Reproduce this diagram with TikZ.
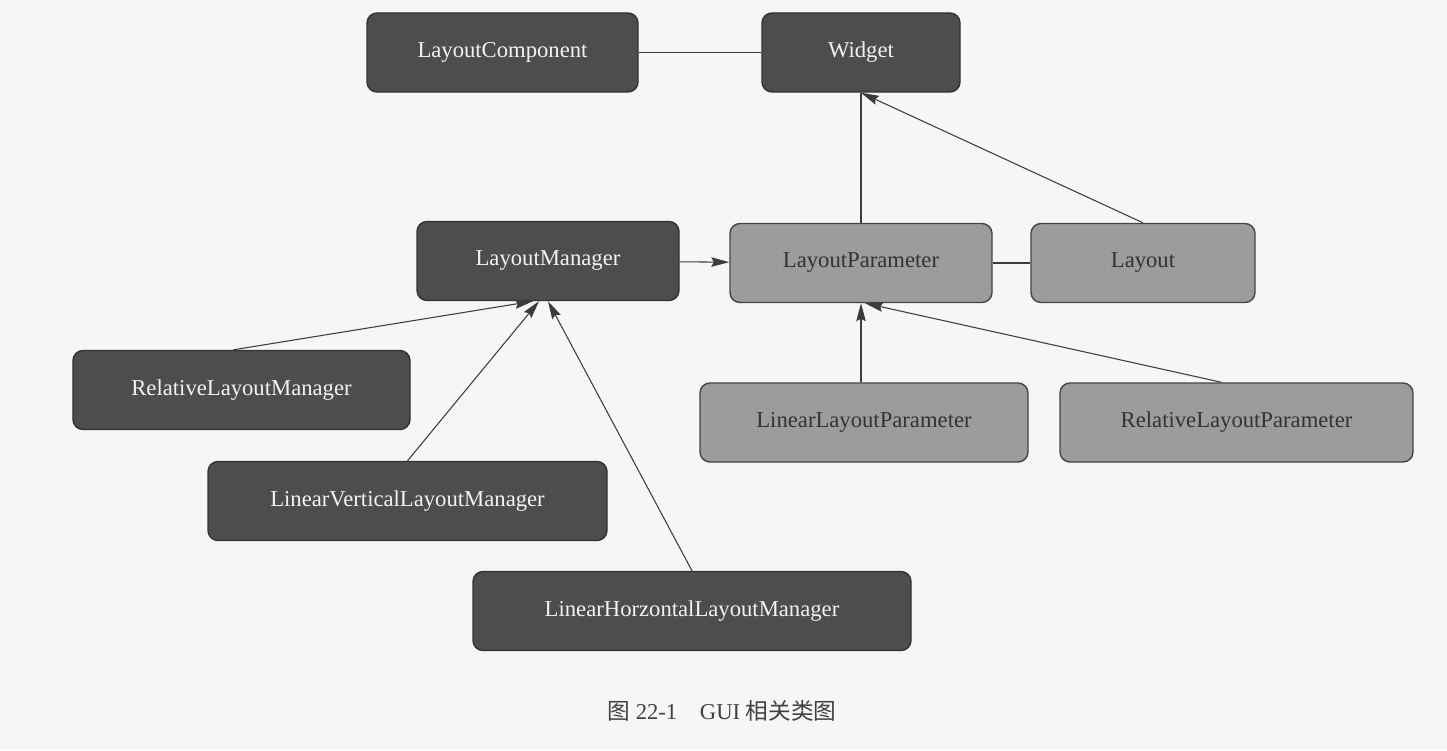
\documentclass[tikz,border=0pt]{standalone}
\usepackage{fontspec}
\setmainfont{Liberation Serif}
\newfontfamily\cjk{Noto Sans CJK SC}
\usetikzlibrary{arrows.meta,calc}
\definecolor{bg}{HTML}{F6F6F4}
\definecolor{dk}{HTML}{4D4D4D}
\definecolor{dkedge}{HTML}{333333}
\definecolor{gy}{HTML}{9C9C9C}
\definecolor{gyedge}{HTML}{454545}
\definecolor{wire}{HTML}{3C3C3C}
\tikzset{
  cls/.style={draw,line width=0.8pt,rounded corners=2mm,inner sep=0pt,align=center,
    minimum height=15.8mm,font=\fontsize{12.9}{15}\selectfont},
  dbox/.style={cls,fill=dk,draw=dkedge,text=white!95!black},
  gbox/.style={cls,fill=gy,draw=gyedge,text=black!80},
  ln/.style={line width=0.6pt,draw=wire},
  ar/.style={ln,-{Stealth[length=3.6mm,width=1.9mm,inset=0.5mm]}},
}
\begin{document}
\begin{tikzpicture}[x=0.2mm,y=-0.2mm]
  \fill[bg] (0,0) rectangle (1447,750);
  % top row
  \node[dbox,minimum width=54.2mm] (lc) at (502.5,52.5) {LayoutComponent};
  \node[dbox,minimum width=39.6mm] (wd) at (861,52.5) {Widget};
  % middle row
  \node[dbox,minimum width=52.4mm] (lm) at (548,261) {LayoutManager};
  \node[gbox,minimum width=52.4mm] (lp) at (861,263) {LayoutParameter};
  \node[gbox,minimum width=44.8mm] (lo) at (1143,263) {Layout};
  % managers
  \node[dbox,minimum width=67.4mm] (rlm) at (241.5,390) {RelativeLayoutManager};
  \node[dbox,minimum width=79.8mm] (lvm) at (407.5,501) {LinearVerticalLayoutManager};
  \node[dbox,minimum width=87.6mm] (lhm) at (692,611) {LinearHorzontalLayoutManager};
  % parameters
  \node[gbox,minimum width=65.6mm] (llp) at (864,422.5) {LinearLayoutParameter};
  \node[gbox,minimum width=70.6mm] (rlp) at (1236.5,422.5) {RelativeLayoutParameter};
  \draw[ln] (lc) -- (wd);
  \draw[ln] (lp.north) -- (wd.south);
  \draw[ar] (lo.north) -- (wd.south);
  \draw[ar] (lm) -- (lp);
  \draw[ln] (lp) -- (lo);
  \draw[ar] ($(rlm.north)+(-8,0)$) -- ($(lm.south)+(-15,0)$);
  \draw[ar] (lvm.north) -- ($(lm.south)+(-9,0)$);
  \draw[ar] (lhm.north) -- (lm.south);
  \draw[ar] (llp.north -| lp.south) -- (lp.south);
  \draw[ar] ($(rlp.north)+(-15,0)$) -- ($(lp.south)+(4,0)$);
  \node[font=\fontsize{12.9}{15}\selectfont,text=black!75] (cap) at (722,711)
    {{\cjk 图}~22-1\quad GUI~{\cjk 相关类图}};
\end{tikzpicture}
\end{document}
